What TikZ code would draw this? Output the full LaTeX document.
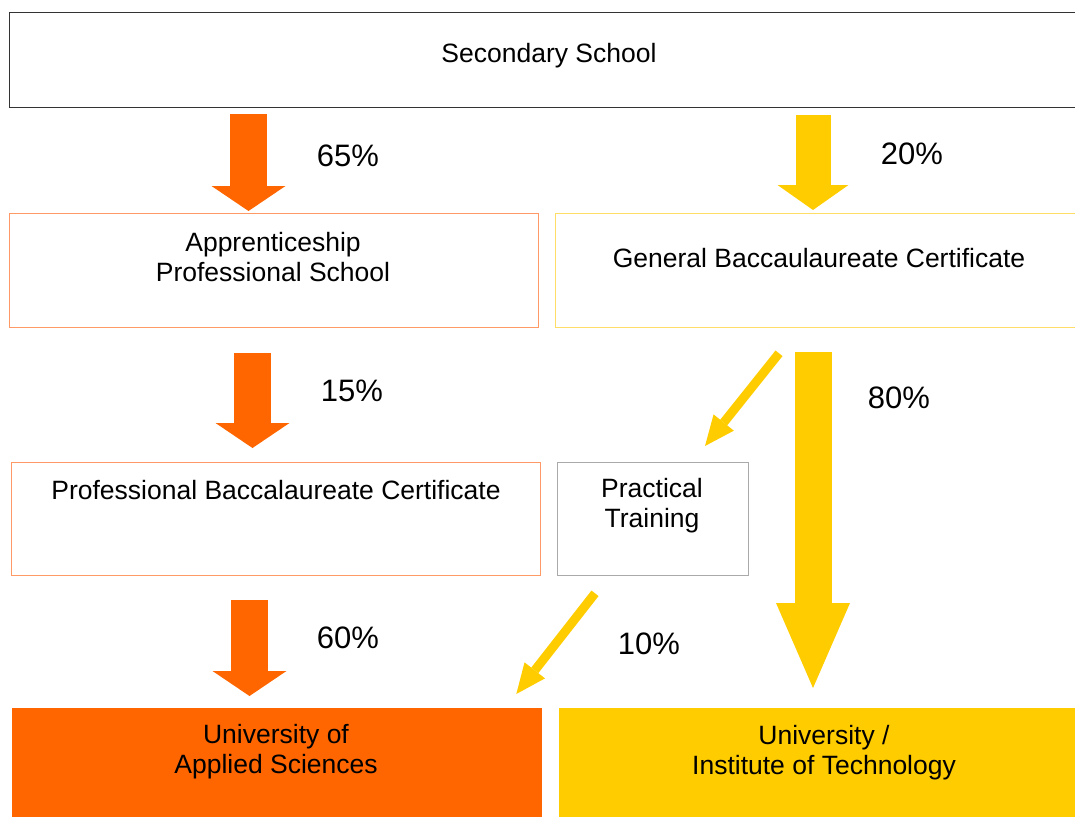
\documentclass[tikz,border=0pt]{standalone}
\usepackage{fontspec}
\setmainfont{Liberation Sans}
\usepackage{tikz}
\usetikzlibrary{positioning,calc,arrows.meta}

\definecolor{schoolorange}{HTML}{FF6600}
\definecolor{schoolyellow}{HTML}{FFCC00}
\definecolor{orangeline}{HTML}{FF9966}
\definecolor{yellowline}{HTML}{FFDD66}
\definecolor{grayline}{HTML}{AAAAAA}

\tikzset{
	stagebox/.style={draw,line width=1.3pt,anchor=north west,inner sep=0pt},
	stagetext/.style={align=center,font=\fontsize{26.5pt}{30pt}\selectfont},
	share/.style={font=\fontsize{31pt}{34pt}\selectfont},
	fatarrow/.style={line width=37pt,-{Triangle[width=74pt,length=25pt,line width=0pt]}},
	slimarrow/.style={line width=9pt,draw=schoolyellow,-{Triangle[width=26pt,length=30pt,line width=0pt]}},
}

\begin{document}
\begin{tikzpicture}[x=1pt,y=-1pt]
	\useasboundingbox (0,0) rectangle (1075,816);
	% boxes
	\node[stagebox,draw=black!80,minimum width=1080pt,minimum height=95pt] (sec) at (9,12) {};
	\node[stagebox,draw=orangeline,minimum width=529pt,minimum height=114pt] (appr) at (9,213) {};
	\node[stagebox,draw=yellowline,minimum width=530pt,minimum height=114pt] (gen) at (555,213) {};
	\node[stagebox,draw=orangeline,minimum width=529pt,minimum height=113pt] (prof) at (11,462) {};
	\node[stagebox,draw=grayline,minimum width=191pt,minimum height=113pt] (prac) at (557,462) {};
	\node[stagebox,draw=none,fill=schoolorange,minimum width=530pt,minimum height=114pt] (uas) at (11,707) {};
	\node[stagebox,draw=none,fill=schoolyellow,minimum width=530pt,minimum height=114pt] (uit) at (558,707) {};

	% texts
	\node[stagetext] (sec-t) at (549,56) {Secondary School};
	\node[stagetext] (appr-t) at (273,257) {Apprenticeship\\Professional School};
	\node[stagetext] (gen-t) at (819,258) {General Baccaulaureate Certificate};
	\node[stagetext] (prof-t) at (276,490) {Professional Baccalaureate Certificate};
	\node[stagetext] (prac-t) at (652,506) {Practical\\Training};
	\node[stagetext] (uas-t) at (276,752) {University of\\Applied Sciences};
	\node[stagetext] (uit-t) at (824,753) {University /\\Institute of Technology};

	% arrows
	\draw[fatarrow,draw=schoolorange] ([shift={(239.5pt,-6pt)}]sec.south west) -- ([shift={(239.5pt,2pt)}]appr.north west);
	\draw[fatarrow,draw=schoolyellow,line width=35pt,-{Triangle[width=71pt,length=25pt,line width=0pt]}] ([shift={(804pt,-7pt)}]sec.south west) -- ([shift={(258pt,3pt)}]gen.north west);
	\draw[fatarrow,draw=schoolorange] ([shift={(243.5pt,-25pt)}]appr.south west) -- ([shift={(241.5pt,14pt)}]prof.north west);
	\draw[fatarrow,draw=schoolorange] ([shift={(238.5pt,-24pt)}]prof.south west) -- ([shift={(238.5pt,11pt)}]uas.north west);
	\draw[fatarrow,draw=schoolyellow,-{Triangle[width=74pt,length=85pt,line width=0pt]}] ([shift={(258pt,-24pt)}]gen.south west) -- ([shift={(255pt,19pt)}]uit.north west);
	\draw[slimarrow] ([shift={(224pt,-25pt)}]gen.south west) -- ([shift={(148pt,16pt)}]prac.north west);
	\draw[slimarrow] ([shift={(38pt,-17pt)}]prac.south west) -- ([shift={(-26pt,13pt)}]uas.north east);

	% shares
	\node[share] (p65) at (348,156) {65\%};
	\node[share] (p20) at (912,154) {20\%};
	\node[share] (p15) at (352,391) {15\%};
	\node[share] (p80) at (899,398) {80\%};
	\node[share] (p60) at (348,638) {60\%};
	\node[share] (p10) at (649,644) {10\%};
\end{tikzpicture}
\end{document}
